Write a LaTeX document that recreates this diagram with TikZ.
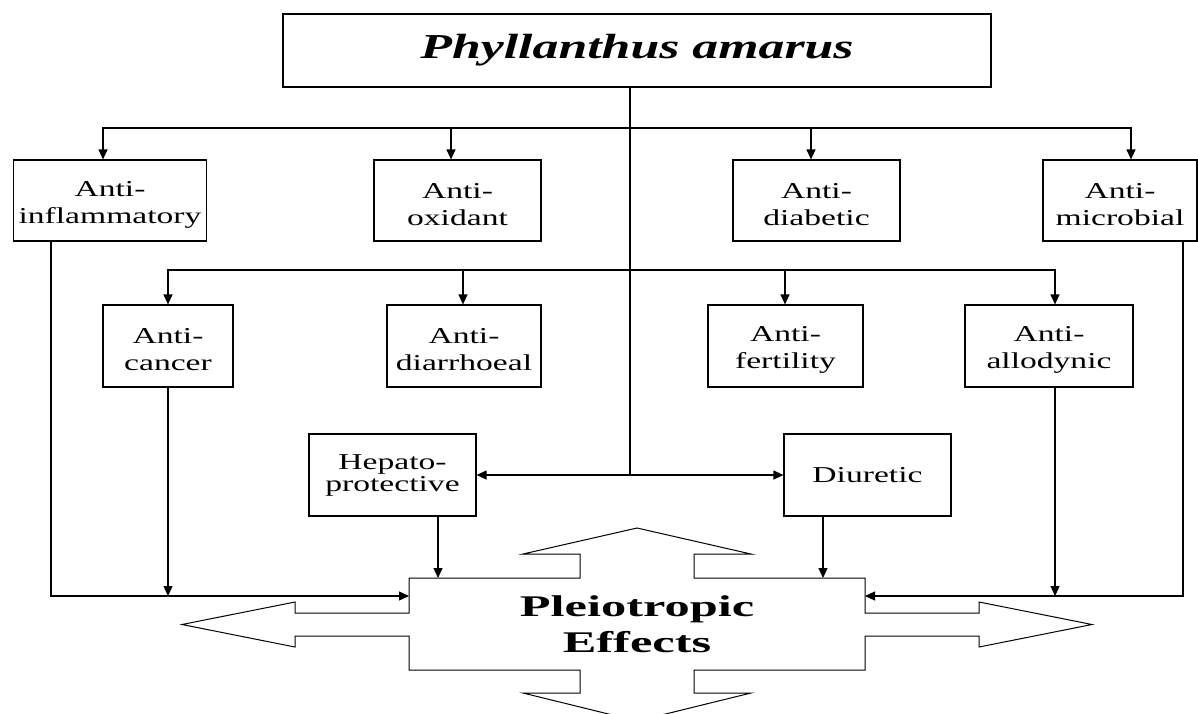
\documentclass[tikz,border=0pt]{standalone}
\usepackage{fontspec}
\setmainfont{Liberation Serif}[FakeStretch=1.48]
\newfontfamily\effectfont{Liberation Serif}[FakeStretch=1.68]
\usetikzlibrary{arrows.meta}

\newcommand\lowstrut{\rule{0pt}{23pt}}
\tikzset{
  effect/.style={draw, inner sep=0pt, align=center, font=\fontsize{22.7}{27}\selectfont},
}

\begin{document}
\begin{tikzpicture}[x=1pt, y=-1pt, line width=1.2pt, >={Triangle[length=10pt,width=9pt]}]
\useasboundingbox (0,0) rectangle (1198,713);
\clip (0,0) rectangle (1198,713);

\node[effect, minimum width=708pt, minimum height=73pt, font=\fontsize{35}{40}\selectfont\bfseries\itshape] (plant) at (637,50.5) {Phyllanthus amarus};

% first row
\node[effect, minimum width=193pt, minimum height=81pt] (inflam) at (110,200.5) {\lowstrut Anti-\\inflammatory};
\node[effect, minimum width=167pt, minimum height=81pt] (oxid) at (457.5,200.5) {\lowstrut Anti-\\oxidant};
\node[effect, minimum width=167pt, minimum height=81pt] (diab) at (816.5,200.5) {\lowstrut Anti-\\diabetic};
\node[effect, minimum width=154pt, minimum height=81pt] (microb) at (1120,200.5) {\lowstrut Anti-\\microbial};

% second row
\node[effect, minimum width=130pt, minimum height=82pt] (cancer) at (168,346) {\lowstrut Anti-\\cancer};
\node[effect, minimum width=154pt, minimum height=82pt] (diarr) at (464,346) {\lowstrut Anti-\\diarrhoeal};
\node[effect, minimum width=155pt, minimum height=82pt] (fert) at (785.5,346) {\lowstrut Anti-\\fertility};
\node[effect, minimum width=168pt, minimum height=82pt] (allod) at (1049,346) {\lowstrut Anti-\\allodynic};

% third row
\node[effect, minimum width=167pt, minimum height=82pt, font=\fontsize{22.7}{22}\selectfont] (hepato) at (392.5,475) {Hepato-\\protective};
\node[effect, minimum width=167pt, minimum height=82pt] (diur) at (867.5,475) {Diuretic};

\coordinate (bus1) at (630,128);
\coordinate (bus2) at (630,270);
\coordinate (hub) at (630,475);
\coordinate (sTop) at (637,578);
\coordinate (pL) at (409,596);
\coordinate (pR) at (865,596);

\draw (plant.south -| hub) -- (hub);
\draw[->] (bus1) -| ([xshift=-7pt]inflam.north);
\draw[->] (bus1) -| ([xshift=-6.5pt]oxid.north);
\draw[->] (bus1) -| ([xshift=-5.5pt]diab.north);
\draw[->] (bus1) -| ([xshift=11pt]microb.north);
\draw[->] (bus2) -| (cancer.north);
\draw[->] (bus2) -| ([xshift=-1pt]diarr.north);
\draw[->] (bus2) -| ([xshift=-0.5pt]fert.north);
\draw[->] (bus2) -| ([xshift=6pt]allod.north);
\draw[->] (hub) -- (hepato.east);
\draw[->] (hub) -- (diur.west);

% pleiotropic effects
\draw[line width=1pt] (409,578) -- (580,578) -- (580,554) -- (523,554) -- (637,528)
  -- (751,554) -- (694,554) -- (694,578) -- (865,578) -- (865,613) -- (979,613)
  -- (979,602) -- (1092,624.5) -- (979,647) -- (979,636) -- (865,636) -- (865,670)
  -- (694,670) -- (694,693) -- (751,693) -- (637,721) -- (523,693) -- (580,693)
  -- (580,670) -- (409,670) -- (409,636) -- (295,636) -- (295,647) -- (182,624.5)
  -- (295,602) -- (295,613) -- (409,613) -- cycle;
\node[font=\effectfont\fontsize{30}{36}\selectfont\bfseries, align=center] (pleio) at (637,624.5) {Pleiotropic\\Effects};

\coordinate (hepOut) at ([xshift=45.5pt]hepato.south);
\coordinate (diurOut) at ([xshift=-44.5pt]diur.south);
\coordinate (allOut) at ([xshift=6pt]allod.south);
\draw[->] ([xshift=-59pt]inflam.south) |- (pL);
\draw[->] (cancer.south) -- (cancer.south |- pL);
\draw[->] (hepOut) -- (hepOut |- sTop);
\draw[->] (diurOut) -- (diurOut |- sTop);
\draw[->] (allOut) -- (allOut |- pR);
\draw[->] ([xshift=63pt]microb.south) |- (pR);
\end{tikzpicture}
\end{document}
